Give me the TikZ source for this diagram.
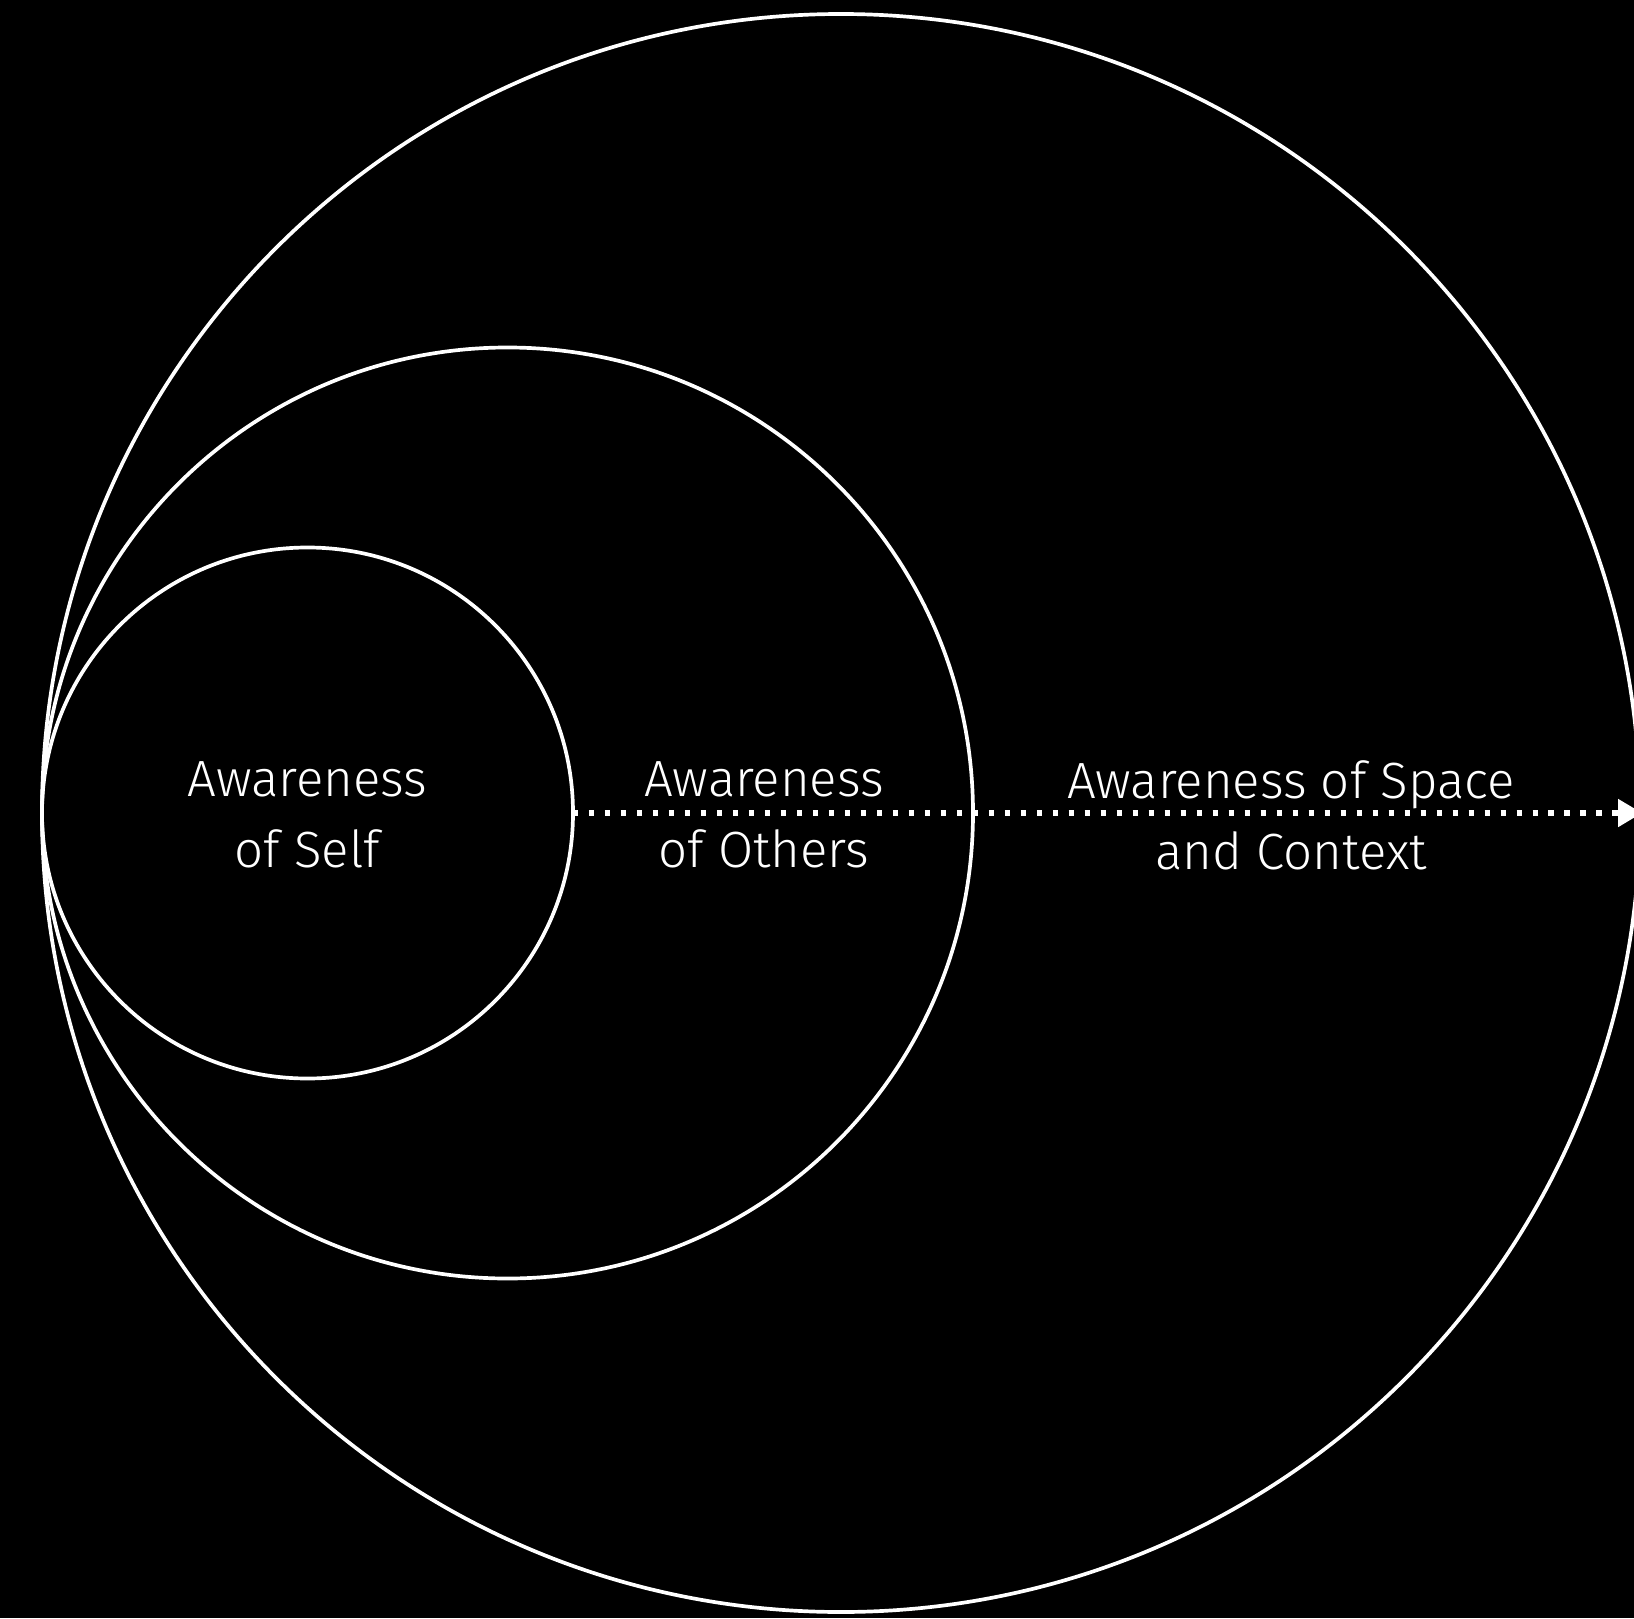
\documentclass[tikz,border=0pt]{standalone}
\usepackage{fontspec}
\setmainfont{Fira Sans Light}
\usepackage{tikz}
\usetikzlibrary{positioning,arrows.meta}

\tikzset{
  ring/.style={draw=white, line width=1.05pt, circle, inner sep=0pt, outer sep=0pt},
  lbl/.style={text=white, align=center, font=\fontsize{14.5}{20.2}\selectfont},
  dotline/.style={white, line width=1.45pt, dash pattern=on 1.45pt off 3.1pt,
    -{Triangle[length=0.24cm, width=0.27cm]}}
}

\begin{document}
\begin{tikzpicture}
  \useasboundingbox (0,0) rectangle (16.34,16.18);
  \fill[black] (0,0) rectangle (16.34,16.18);
  \clip (0,0) rectangle (16.34,16.18);

  \coordinate (C1) at (3.075, 8.05);
  \coordinate (C2) at (5.075, 8.05);
  \coordinate (C3) at (8.41, 8.05);
  \coordinate (tip) at (16.42, 8.05);

  \node[ring, minimum size=15.98cm] (space)  at (C3) {};
  \node[ring, minimum size=9.31cm]  (others) at (C2) {};
  \node[ring, minimum size=5.31cm]  (self)   at (C1) {};

  \draw[dotline] (self.east) -- (tip);

  \node[lbl] (selfText)   at (3.075, 8.03) {Awareness\\of Self};
  \node[lbl] (othersText) at (7.64, 8.03)  {Awareness\\of Others};
  \node[lbl] (spaceText)  at (12.91, 8.03) {Awareness of Space\\and Context};
\end{tikzpicture}
\end{document}
